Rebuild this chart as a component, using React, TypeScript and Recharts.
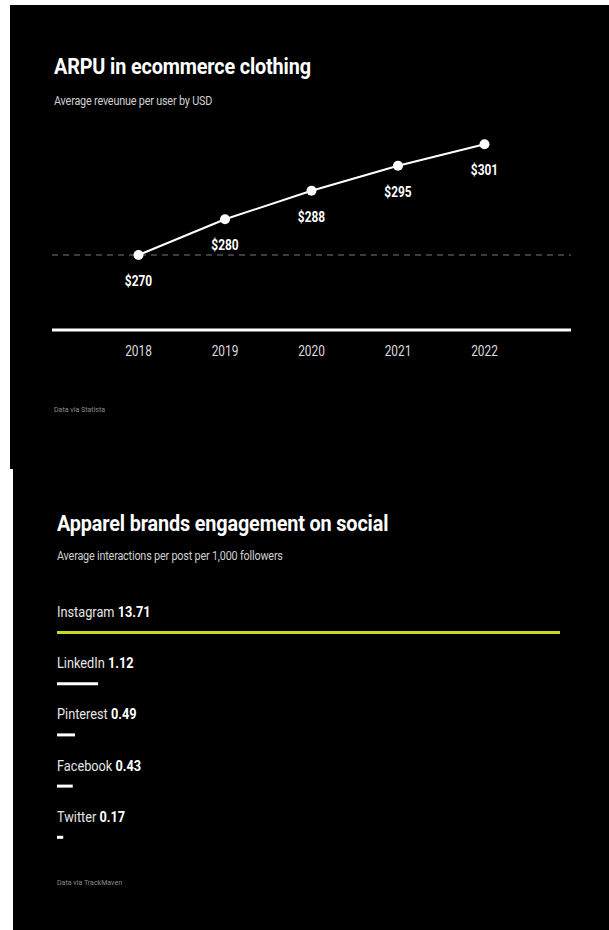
import React from "react";
import {
  LineChart,
  Line,
  XAxis,
  YAxis,
  ReferenceLine,
  LabelList,
  BarChart,
  Bar,
  Cell,
} from "recharts";

// ARPU chart data
const years = [2018, 2019, 2020, 2021, 2022];
const arpu = [270, 280, 288, 295, 301];

// social engagement data
const networks = ["Instagram", "LinkedIn", "Pinterest", "Facebook", "Twitter"];
const interactions = [13.71, 1.12, 0.49, 0.43, 0.17];

const FONT = "Roboto, sans-serif";
const LIME = "#c9dc1c";
// the original uses a condensed face; squeeze Roboto horizontally to get close
const SQUEEZE = 0.85;

const arpuData = years.map((year, i) => ({ year, value: arpu[i] }));
const socialData = networks.map((name, i) => ({ name, value: interactions[i] }));

function PriceLabel(props: any) {
  const { x, y, value } = props;
  return (
    <text
      transform={`translate(${x},${y + 31}) scale(${SQUEEZE},1)`}
      textAnchor="middle"
      fill="#fff"
      fontSize={14}
      fontWeight="bold"
      fontFamily={FONT}
    >
      ${value}
    </text>
  );
}

function YearTick(props: any) {
  const { x, y, payload } = props;
  return (
    <text
      transform={`translate(${x},${y}) scale(${SQUEEZE},1)`}
      dy="0.71em"
      textAnchor="middle"
      fill="#dcdcdc"
      fontSize={14}
      fontFamily={FONT}
    >
      {payload.value}
    </text>
  );
}

function SocialLabel(props: any) {
  const { x, y, index } = props;
  return (
    <text
      transform={`translate(${x},${y - 14}) scale(${SQUEEZE},1)`}
      fill="#e6e6e6"
      fontSize={15}
      fontFamily={FONT}
    >
      <tspan>{networks[index]} </tspan>
      <tspan fill="#fff" fontWeight="bold">
        {interactions[index].toFixed(2)}
      </tspan>
    </text>
  );
}

const titleStyle: React.CSSProperties = {
  position: "absolute",
  left: 44,
  fontFamily: FONT,
  fontWeight: "bold",
  fontSize: 22,
  lineHeight: "22px",
  letterSpacing: -0.15,
  color: "#fff",
  whiteSpace: "nowrap",
  transform: "scaleX(0.9)",
  transformOrigin: "left center",
};

const subStyle: React.CSSProperties = {
  position: "absolute",
  left: 44,
  fontFamily: FONT,
  fontSize: 12,
  lineHeight: "12px",
  letterSpacing: -0.2,
  color: "#d0d0d0",
  whiteSpace: "nowrap",
  transform: "scaleX(0.9)",
  transformOrigin: "left center",
};

const sourceStyle: React.CSSProperties = {
  position: "absolute",
  left: 44,
  fontFamily: FONT,
  fontSize: 8,
  lineHeight: "9px",
  color: "#8c8c8c",
  whiteSpace: "nowrap",
  transform: "scaleX(0.88)",
  transformOrigin: "left center",
};

export default function App() {
  return (
    <div style={{ position: "absolute", left: 0, top: 0, width: 609, height: 930, background: "#fff" }}>
      {/* top panel */}
      <div style={{ position: "absolute", left: 10, top: 5, width: 599, height: 464, background: "#000" }}>
        <div style={{ ...titleStyle, top: 51 }}>ARPU in ecommerce clothing</div>
        <div style={{ ...subStyle, top: 90 }}>Average reveunue per user by USD</div>
        <div style={{ position: "absolute", left: 0, top: 0 }}>
          <LineChart
            width={599}
            height={360}
            data={arpuData}
            margin={{ top: 125, right: 38, bottom: 5, left: 42 }}
          >
            <XAxis
              dataKey="year"
              type="number"
              domain={[2017, 2023]}
              ticks={years}
              axisLine={{ stroke: "#fff", strokeWidth: 3 }}
              tickLine={false}
              tickMargin={10}
              height={30}
              tick={<YearTick />}
            />
            <YAxis hide type="number" domain={[249, 305]} />
            <ReferenceLine y={270} stroke="#7a7a7a" strokeDasharray="6 5" strokeWidth={1} />
            <Line
              type="linear"
              dataKey="value"
              stroke="#fff"
              strokeWidth={2}
              dot={{ r: 5, fill: "#fff", stroke: "none" }}
              isAnimationActive={false}
            >
              <LabelList dataKey="value" content={PriceLabel} />
            </Line>
          </LineChart>
        </div>
        <div style={{ ...sourceStyle, top: 400 }}>Data via Statista</div>
      </div>

      {/* bottom panel */}
      <div style={{ position: "absolute", left: 13, top: 469, width: 596, height: 461, background: "#000" }}>
        <div style={{ ...titleStyle, top: 44 }}>Apparel brands engagement on social</div>
        <div style={{ ...subStyle, top: 81 }}>Average interactions per post per 1,000 followers</div>
        <div style={{ position: "absolute", left: 0, top: 0 }}>
          <BarChart
            layout="vertical"
            width={596}
            height={400}
            data={socialData}
            margin={{ top: 138, right: 49, bottom: 6, left: 44 }}
            barCategoryGap={0}
          >
            <XAxis type="number" hide domain={[0, "dataMax"]} />
            <YAxis type="category" dataKey="name" hide />
            <Bar dataKey="value" barSize={3} isAnimationActive={false}>
              {socialData.map((d, i) => (
                <Cell key={d.name} fill={i === 0 ? LIME : "#fff"} />
              ))}
              <LabelList dataKey="value" content={SocialLabel} />
            </Bar>
          </BarChart>
        </div>
        <div style={{ ...sourceStyle, top: 409 }}>Data via TrackMaven</div>
      </div>
    </div>
  );
}
